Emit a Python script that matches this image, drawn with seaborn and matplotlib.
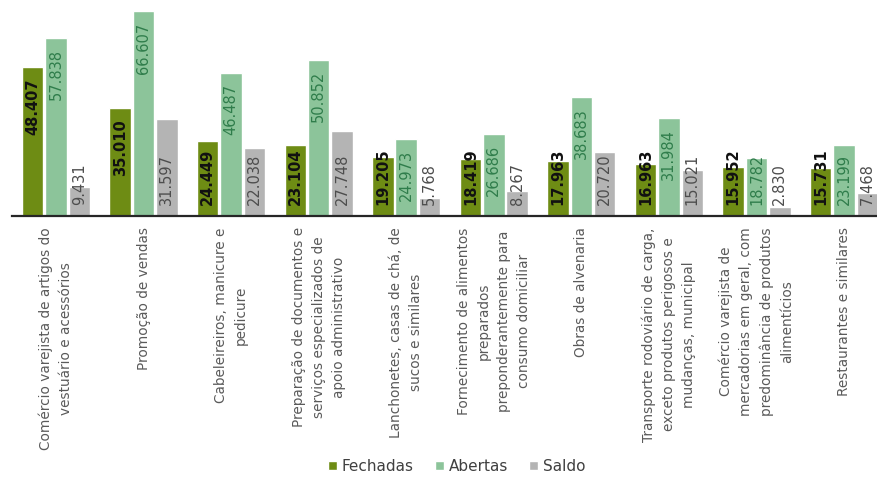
import pandas as pd
import matplotlib.pyplot as plt
import seaborn as sns


# Dados: empresas fechadas / abertas e saldo por atividade
categorias = [
    "Comércio varejista de artigos do vestuário e acessórios",
    "Promoção de vendas",
    "Cabeleireiros, manicure e pedicure",
    "Preparação de documentos e serviços especializados de apoio administrativo",
    "Lanchonetes, casas de chá, de sucos e similares",
    "Fornecimento de alimentos preparados preponderantemente para consumo domiciliar",
    "Obras de alvenaria",
    "Transporte rodoviário de carga, exceto produtos perigosos e mudanças, municipal",
    "Comércio varejista de mercadorias em geral, com predominância de produtos alimentícios",
    "Restaurantes e similares",
]
rotulos = [
    "Comércio varejista de artigos do\nvestuário e acessórios",
    "Promoção de vendas",
    "Cabeleireiros, manicure e\npedicure",
    "Preparação de documentos e\nserviços especializados de\napoio administrativo",
    "Lanchonetes, casas de chá, de\nsucos e similares",
    "Fornecimento de alimentos\npreparados\npreponderantemente para\nconsumo domiciliar",
    "Obras de alvenaria",
    "Transporte rodoviário de carga,\nexceto produtos perigosos e\nmudanças, municipal",
    "Comércio varejista de\nmercadorias em geral, com\npredominância de produtos\nalimentícios",
    "Restaurantes e similares",
]
fechadas = [48407, 35010, 24449, 23104, 19205, 18419, 17963, 16963, 15952, 15731]
abertas = [57838, 66607, 46487, 50852, 24973, 26686, 38683, 31984, 18782, 23199]
saldo = [9431, 31597, 22038, 27748, 5768, 8267, 20720, 15021, 2830, 7468]

series = ["Fechadas", "Abertas", "Saldo"]
cores = ["#6e8c14", "#8cc49a", "#b4b4b4"]
cores_texto = ["#111111", "#2f7d4b", "#4d4d4d"]

df = pd.DataFrame({"Atividade": categorias, "Fechadas": fechadas,
                   "Abertas": abertas, "Saldo": saldo})
df = df.melt(id_vars="Atividade", var_name="Tipo", value_name="Valor")

sns.set_style("white")
plt.rcParams['font.family'] = ['DejaVu Sans']

fig = plt.figure(figsize=(8.78, 4.79), dpi=100)
ax = fig.add_axes([12.2 / 878, 0.549, 875.6 / 878, 0.430])

sns.barplot(data=df, x="Atividade", y="Valor", hue="Tipo", hue_order=series,
            palette=cores, width=0.8, gap=0.08, ax=ax, saturation=1)

ax.set_xlim(-0.5, 9.5)
ax.set_ylim(0, 67000)
ax.set_xlabel("")
ax.set_ylabel("")
ax.set_yticks([])
ax.set_xticks(range(len(rotulos)))
ax.set_xticklabels(rotulos, rotation=90, ha="center", va="top",
                   multialignment="center", fontsize=9.8, color="#5a5a5a",
                   linespacing=1.55)
ax.tick_params(axis="x", length=0, pad=8)
for s in ["top", "left", "right"]:
    ax.spines[s].set_visible(False)
ax.spines["bottom"].set_color("#262626")
ax.spines["bottom"].set_linewidth(1.6)

# Rótulos de valores dentro das barras
fig.canvas.draw()
renderer = fig.canvas.get_renderer()
pad = 8
for i, cont in enumerate(ax.containers):
    for bar in cont:
        x = bar.get_x() + bar.get_width() / 2
        v = bar.get_height()
        txt = f"{int(round(v)):,}".replace(",", ".")
        t = ax.annotate(txt, (x, 0), xytext=(0, pad), textcoords="offset points",
                        rotation=90, ha="center", va="bottom", fontsize=10.5,
                        fontweight="bold" if i == 0 else "normal",
                        color=cores_texto[i])
        if i < 2:
            h = t.get_window_extent(renderer).height
            bar_px = ax.transData.transform((0, v))[1] - ax.transData.transform((0, 0))[1]
            if bar_px > h + 2 * pad * fig.dpi / 72:
                t.xy = (x, v)
                t.set_position((0, -pad))
                t.set_va("top")

handles, labels = ax.get_legend_handles_labels()
ax.get_legend().remove()
fig.legend(handles, labels, loc="lower center", bbox_to_anchor=(0.52, -0.018),
           ncol=3, frameon=False, fontsize=11, handlelength=0.6,
           handleheight=0.6, handletextpad=0.3, columnspacing=1.4,
           labelcolor="#404040")

fig.savefig("out.png", dpi=100)
